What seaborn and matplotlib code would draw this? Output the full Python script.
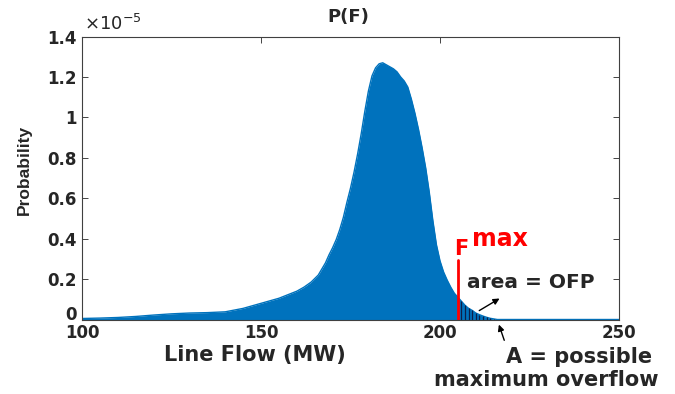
import numpy as np
import pandas as pd
import matplotlib
matplotlib.use("Agg")
import matplotlib.pyplot as plt
from matplotlib.ticker import FuncFormatter
import seaborn as sns

# line flow grid (MW) and probability density (in units of 1e-5)
flow = [100, 105, 110, 115, 120, 125, 130, 135, 140, 145, 150, 155, 160,
        162, 164, 166, 168, 169, 170, 171, 172, 173, 174, 175, 176, 177,
        178, 179, 180, 181, 182, 183, 184, 185, 186, 187, 188, 189, 190,
        191, 192, 193, 194, 195, 196, 197, 198, 199, 200, 201, 202, 203,
        204, 205, 206, 207, 208, 209, 210, 211, 212, 213, 214, 215, 216,
        250]
prob_e5 = [0.005, 0.007, 0.010, 0.015, 0.022, 0.028, 0.032, 0.034, 0.038,
           0.055, 0.080, 0.105, 0.14, 0.16, 0.185, 0.22, 0.28, 0.32, 0.355,
           0.395, 0.445, 0.505, 0.58, 0.65, 0.73, 0.82, 0.92, 1.03, 1.13,
           1.205, 1.245, 1.265, 1.27, 1.26, 1.25, 1.24, 1.225, 1.20, 1.18,
           1.15, 1.09, 1.02, 0.94, 0.85, 0.75, 0.63, 0.49, 0.37, 0.29,
           0.235, 0.195, 0.16, 0.13, 0.11, 0.09, 0.07, 0.055, 0.045, 0.032,
           0.024, 0.017, 0.011, 0.006, 0.003, 0.0, 0.0]
scale = 1e-5
f_max = 205
f_max_top = 0.295e-5

xticks = [100, 150, 200, 250]
yticks = [0, 0.2e-5, 0.4e-5, 0.6e-5, 0.8e-5, 1.0e-5, 1.2e-5, 1.4e-5]

df = pd.DataFrame({"flow": flow, "prob": np.array(prob_e5) * scale})

sns.set_style("ticks")
plt.rcParams["font.family"] = ["DejaVu Sans"]
plt.rcParams["xtick.direction"] = "in"
plt.rcParams["ytick.direction"] = "in"

W, H = 675, 394
fig = plt.figure(figsize=(W / 100, H / 100), dpi=100)
ax = fig.add_axes([82 / W, 1 - 319.5 / H, (619 - 82) / W, (319.5 - 36.5) / H])

blue = "#0072BD"
ax.fill_between(df["flow"], df["prob"], color=blue, lw=0)
sns.lineplot(data=df, x="flow", y="prob", color=blue, lw=1, ax=ax)

# hatch lines under the tail beyond F max
tail = df[(df["flow"] > f_max) & (df["prob"] > 0)]
ax.vlines(tail["flow"], 0, tail["prob"], color="#0b1f4a", lw=0.9)

ax.plot([f_max, f_max], [0, f_max_top], color="red", lw=2)

ax.set_xlim(100, 250)
ax.set_ylim(0, 1.4e-5)
ax.set_xticks(xticks)
ax.set_yticks(yticks)
ax.yaxis.set_major_formatter(FuncFormatter(lambda v, p: "%g" % round(v / scale, 2)))
ax.tick_params(top=True, right=True, length=4, width=0.6, colors="#262626",
               labelsize=12, pad=4)
ax.tick_params(axis="x", pad=3)
for t in ax.xaxis.get_major_ticks() + ax.yaxis.get_major_ticks():
    t.label1.set_fontweight("bold")
# MATLAB sits the zero label on the axis line
ax.yaxis.get_major_ticks()[0].label1.set_va("baseline")
for s in ax.spines.values():
    s.set_color("#404040")
    s.set_linewidth(0.8)
ax.set_xlabel("")
ax.set_ylabel("")

def ft(x, y, s, **kw):
    fig.text(x / W, 1 - y / H, s, **kw)

ft(348, 17, "P(F)", ha="center", va="center", fontsize=13, fontweight="bold")
ft(84, 24, r"$\times10^{-5}$", ha="left", va="center", fontsize=13, color="#262626")
ft(255, 355, "Line Flow (MW)", ha="center", va="center", fontsize=15, fontweight="bold")
ft(24, 170, "Probability", ha="center", va="center", rotation=90, fontsize=12.5,
   fontweight="bold", family=["Liberation Sans"])
ft(454, 249, "F", ha="left", va="center", fontsize=15, fontweight="bold", color="red")
ft(472, 239, "max", ha="left", va="center", fontsize=17, fontweight="bold", color="red")
ft(467, 282, "area = OFP", ha="left", va="center", fontsize=14.5, fontweight="bold")
ft(579, 357, "A = possible", ha="center", va="center", fontsize=15, fontweight="bold")
ft(546, 380, "maximum overflow", ha="center", va="center", fontsize=15, fontweight="bold")

arrow = dict(arrowstyle="-|>", color="black", lw=1, mutation_scale=9)
ax.annotate("", xy=(217.3, 0.111e-5), xytext=(210.3, 0.037e-5),
            arrowprops=arrow, annotation_clip=False)
ax.annotate("", xy=(216.2, -0.012e-5), xytext=(218.2, -0.116e-5),
            arrowprops=arrow, annotation_clip=False)

fig.savefig("out.png", dpi=100)
